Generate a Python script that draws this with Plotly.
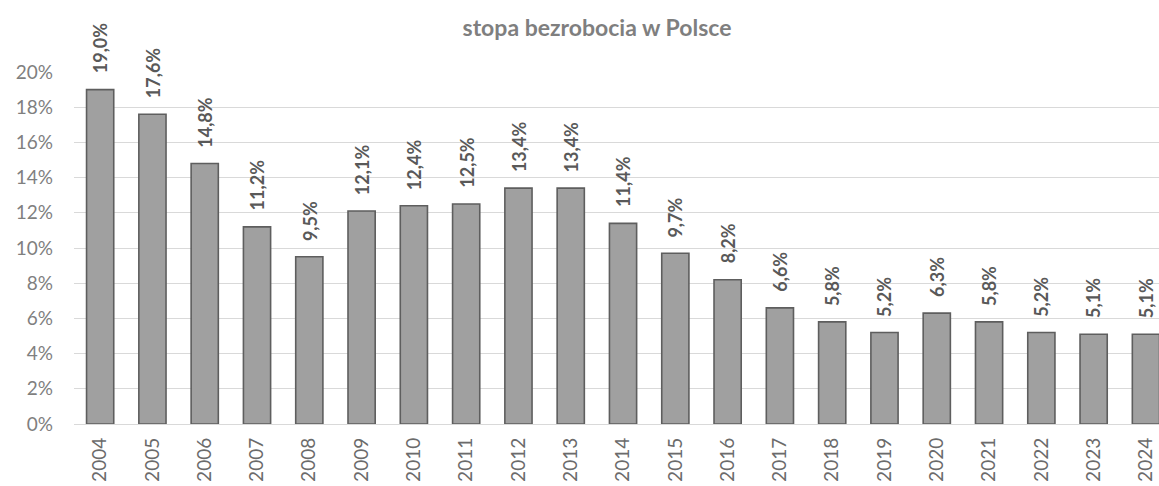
import plotly.graph_objects as go

years = ["2004", "2005", "2006", "2007", "2008", "2009", "2010", "2011", "2012", "2013",
         "2014", "2015", "2016", "2017", "2018", "2019", "2020", "2021", "2022", "2023", "2024"]
rates = [19.0, 17.6, 14.8, 11.2, 9.5, 12.1, 12.4, 12.5, 13.4, 13.4,
         11.4, 9.7, 8.2, 6.6, 5.8, 5.2, 6.3, 5.8, 5.2, 5.1, 5.1]
title_text = "stopa bezrobocia w Polsce"
labels = [f"{v:.1f}%".replace(".", ",") for v in rates]

FONT = "Lato, 'Liberation Sans', sans-serif"

fig = go.Figure()
fig.add_trace(go.Bar(
    x=years, y=rates,
    marker=dict(color="#a0a0a0", line=dict(color="#5e5e5e", width=1.6)),
    width=0.52,
    hoverinfo="skip",
))

for i, (v, lab) in enumerate(zip(rates, labels)):
    fig.add_annotation(
        x=i, y=v, xref="x", yref="y", text=f"<b>{lab}</b>", showarrow=False,
        textangle=-90, yanchor="bottom", xanchor="center", yshift=14,
        font=dict(family=FONT, size=18, color="#595959"),
    )

fig.update_layout(
    width=1159, height=486,
    margin=dict(l=74, r=0, t=72, b=62),
    paper_bgcolor="white", plot_bgcolor="white",
    showlegend=False,
    title=dict(text=f"<b>{title_text}</b>", x=597 / 1159, xanchor="center",
               y=1 - 28 / 486, yanchor="middle", xref="container", yref="container",
               font=dict(family=FONT, size=23, color="#7f7f7f")),
    xaxis=dict(
        type="category", range=[-0.5, 20.25], automargin=False,
        tickangle=-90, tickfont=dict(family=FONT, size=19, color="#6b6b6b"),
        showgrid=False, showline=False, ticks="", ticklabelstandoff=9,
    ),
    yaxis=dict(
        range=[0, 20], dtick=2, ticksuffix="%", automargin=False,
        tickfont=dict(family=FONT, size=19, color="#7f7f7f"),
        showgrid=True, gridcolor="#d9d9d9", gridwidth=1.3,
        zeroline=True, zerolinecolor="#d9d9d9", zerolinewidth=1.3,
        showline=False, ticks="", ticklabelstandoff=20,
    ),
)

fig.write_html("out.html", config={"displayModeBar": False},
               post_script="document.body.style.margin='0';document.body.style.overflow='hidden';")
